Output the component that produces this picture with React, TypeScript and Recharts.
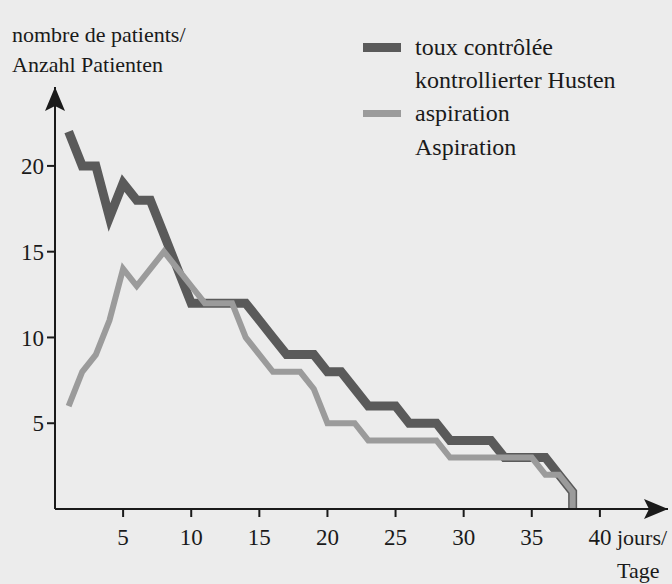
import { Line, LineChart, XAxis, YAxis } from "recharts";

// day numbers; last day repeated so the curves drop straight to zero
const DAYS = [
  1, 2, 3, 4, 5, 6, 7, 8, 9, 10, 11, 12, 13, 14, 15, 16, 17, 18, 19, 20,
  21, 22, 23, 24, 25, 26, 27, 28, 29, 30, 31, 32, 33, 34, 35, 36, 37, 38, 38,
];

// toux contrôlée / kontrollierter Husten
const TOUX = [
  22, 20, 20, 17, 19, 18, 18, 16, 14, 12, 12, 12, 12, 12, 11, 10, 9, 9, 9, 8,
  8, 7, 6, 6, 6, 5, 5, 5, 4, 4, 4, 4, 3, 3, 3, 3, 2, 1, 0,
];

// aspiration / Aspiration
const ASPIRATION = [
  6, 8, 9, 11, 14, 13, 14, 15, 14, 13, 12, 12, 12, 10, 9, 8, 8, 8, 7, 5,
  5, 5, 4, 4, 4, 4, 4, 4, 3, 3, 3, 3, 3, 3, 3, 2, 2, 1, 0,
];

const X_TICKS = [5, 10, 15, 20, 25, 30, 35, 40];
const Y_TICKS = [5, 10, 15, 20];

const DATA = DAYS.map((day, i) => ({
  day,
  toux: TOUX[i],
  aspiration: ASPIRATION[i],
}));

const FONT = '"Liberation Serif", "Times New Roman", serif';
const INK = "#1a1a1a";
const DARK = "#5a5a5a";
const LIGHT = "#9b9b9b";

const TICK_STYLE = { fill: INK, fontSize: 23, fontFamily: FONT };

const textStyle = (left: number, baseline: number, size = 22) => ({
  position: "absolute" as const,
  left,
  top: baseline - size * 0.835,
  fontFamily: FONT,
  fontSize: size,
  lineHeight: `${size}px`,
  color: INK,
  whiteSpace: "nowrap" as const,
});

export default function App() {
  return (
    <div
      style={{
        position: "fixed",
        left: 0,
        top: 0,
        width: 672,
        height: 584,
        background: "#ececec",
        overflow: "hidden",
      }}
    >
      <LineChart
        width={672}
        height={584}
        data={DATA}
        margin={{ top: 87, right: 4, bottom: 0, left: 0 }}
      >
        <defs>
          <marker
            id="axisArrow"
            viewBox="0 0 24 20"
            refX={24}
            refY={10}
            markerWidth={24}
            markerHeight={20}
            markerUnits="userSpaceOnUse"
            orient="auto-start-reverse"
          >
            <path d="M0,0 L24,10 L0,20 L5,10 Z" fill={INK} />
          </marker>
        </defs>
        <XAxis
          dataKey="day"
          type="number"
          domain={[0, 45]}
          ticks={X_TICKS}
          height={75}
          tick={TICK_STYLE}
          tickSize={8}
          tickMargin={12}
          tickLine={{ stroke: INK, strokeWidth: 2 }}
          axisLine={{ stroke: INK, strokeWidth: 2, markerEnd: "url(#axisArrow)" }}
        />
        <YAxis
          type="number"
          domain={[0, 24.6]}
          ticks={Y_TICKS}
          width={55}
          tick={TICK_STYLE}
          tickSize={8}
          tickMargin={3}
          tickLine={{ stroke: INK, strokeWidth: 2 }}
          axisLine={{ stroke: INK, strokeWidth: 2, markerStart: "url(#axisArrow)" }}
        />
        <Line
          type="linear"
          dataKey="toux"
          stroke={DARK}
          strokeWidth={9}
          dot={false}
          isAnimationActive={false}
        />
        <Line
          type="linear"
          dataKey="aspiration"
          stroke={LIGHT}
          strokeWidth={6}
          dot={false}
          isAnimationActive={false}
        />
      </LineChart>

      {/* y axis title */}
      <div style={textStyle(12, 42)}>nombre de patients/</div>
      <div style={textStyle(12, 72)}>Anzahl Patienten</div>

      {/* legend */}
      <div style={{ position: "absolute", left: 363, top: 43, width: 38, height: 9, background: DARK }} />
      <div style={textStyle(415, 55, 24)}>toux contrôlée</div>
      <div style={textStyle(415, 88, 24)}>kontrollierter Husten</div>
      <div style={{ position: "absolute", left: 363, top: 110, width: 38, height: 7, background: LIGHT }} />
      <div style={textStyle(415, 121, 24)}>aspiration</div>
      <div style={textStyle(415, 155, 24)}>Aspiration</div>

      {/* x axis title */}
      <div style={textStyle(617, 545)}>jours/</div>
      <div style={textStyle(617, 578)}>Tage</div>
    </div>
  );
}
